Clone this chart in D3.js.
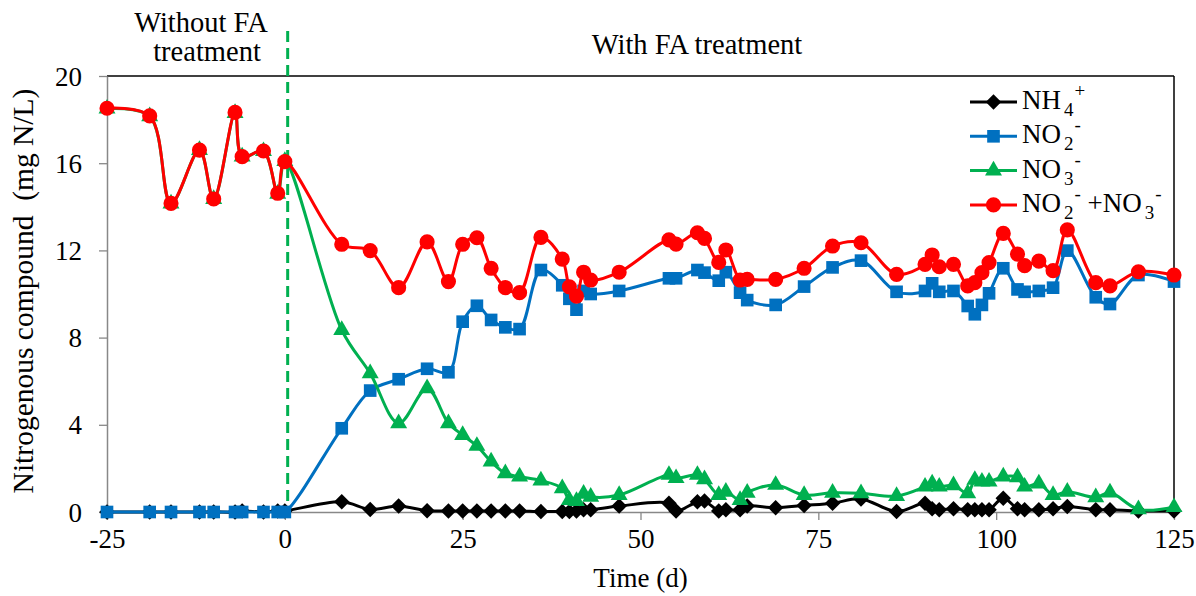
<!DOCTYPE html>
<html>
<head>
<meta charset="utf-8">
<script src="https://cdn.jsdelivr.net/npm/d3@7"></script>
<style>
  body { margin: 0; background: #fff; }
  svg { display: block; font-family: "Liberation Serif", "Times New Roman", serif; }
  svg text { font-family: "Liberation Serif", "Times New Roman", serif; }
</style>
</head>
<body>
<svg id="chart" width="1196" height="596"></svg>
<script>
// sampling days (d)
var days = [-25, -19, -16, -12, -10, -7, -6, -3, -1, 0, 8, 12, 16, 20, 23, 25, 27, 29, 31, 33,
  36, 39, 40, 41, 42, 43, 47, 54, 55, 58, 59, 61, 62, 64, 65, 69, 73, 77, 81, 86,
  90, 91, 92, 94, 96, 97, 98, 99, 101, 103, 104, 106, 108, 110, 114, 116, 120, 125];

var nh4 = [0, 0, 0, 0, 0, 0, 0.05, 0, 0.05, 0.05, 0.47, 0.12, 0.27, 0.06, 0.05, 0.05, 0.05, 0.05, 0.05, 0.05,
  0.02, 0.02, 0.02, 0.05, 0.1, 0.1, 0.27, 0.4, 0.05, 0.47, 0.5, 0.05, 0.1, 0.1, 0.27, 0.2, 0.3, 0.4, 0.6, 0.02,
  0.4, 0.15, 0.1, 0.15, 0.1, 0.1, 0.1, 0.1, 0.63, 0.15, 0.1, 0.1, 0.15, 0.25, 0.1, 0.1, 0.05, 0.05];

var no2 = [0, 0, 0, 0, 0, 0, 0, 0, 0, 0, 3.84, 5.57, 6.09, 6.57, 6.41, 8.73, 9.46, 8.81, 8.47, 8.39,
  11.1, 10.4, 9.78, 9.28, 10.14, 10.0, 10.14, 10.72, 10.72, 11.1, 10.98, 10.61, 11.0, 10.06, 9.72, 9.5, 10.34, 11.22, 11.53, 10.1,
  10.14, 10.49, 10.1, 10.14, 9.45, 9.07, 9.5, 10.03, 11.18, 10.21, 10.1, 10.14, 10.29, 11.99, 9.85, 9.54, 10.87, 10.57];

var no3 = [18.5, 18.15, 14.15, 16.6, 14.35, 18.3, 16.3, 16.55, 14.6, 16.1, 8.35, 6.36, 4.07, 5.67, 4.07, 3.53, 3.03, 2.31, 1.77, 1.62,
  1.44, 1.09, 0.55, 0.5, 0.83, 0.7, 0.78, 1.7, 1.55, 1.7, 1.5, 0.78, 0.93, 0.55, 0.88, 1.24, 0.78, 0.88, 0.86, 0.73,
  1.16, 1.3, 1.16, 1.22, 0.86, 1.47, 1.39, 1.39, 1.62, 1.59, 1.16, 1.3, 0.78, 0.93, 0.67, 0.89, 0.12, 0.22];

var noxSum = [18.52, 18.17, 14.16, 16.6, 14.36, 18.33, 16.3, 16.56, 14.62, 16.07, 12.28, 11.99, 10.29, 12.39, 10.57, 12.28, 12.58, 11.18, 10.29, 10.06,
  12.6, 11.6, 10.33, 9.9, 11.0, 10.64, 11.0, 12.48, 12.29, 12.81, 12.55, 11.45, 12.02, 10.64, 10.67, 10.67, 11.18, 12.2, 12.35, 10.9,
  11.36, 11.79, 11.25, 11.36, 10.37, 10.52, 10.98, 11.44, 12.78, 11.83, 11.3, 11.51, 11.07, 12.94, 10.52, 10.37, 11.02, 10.87];

var xTicks = [-25, 0, 25, 50, 75, 100, 125];
var yTicks = [0, 4, 8, 12, 16, 20];
var faStart = 0.4; // day the FA dosing starts (dashed line)

var series = [
  { key: "nh4", values: nh4, color: "#000000", marker: "diamond", label: ["NH", "4", "+"] },
  { key: "no2", values: no2, color: "#0070C0", marker: "square", label: ["NO", "2", "-"] },
  { key: "no3", values: no3, color: "#00B050", marker: "triangle", label: ["NO", "3", "-"] },
  { key: "sum", values: noxSum, color: "#FF0000", marker: "circle", label: ["NO", "2", "-", " +NO", "3", "-"] }
];

// plot area (note: "top" is reserved on window, so use other names)
var pLeft = 107, pRight = 1174, pTop = 76, pBottom = 512;

var svg = d3.select("#chart");

var x = d3.scaleLinear().domain([-25, 125]).range([pLeft, pRight]);
var y = d3.scaleLinear().domain([0, 20]).range([pBottom, pTop]);

// plot frame: dark top and right edges
svg.append("line")
  .attr("x1", pLeft).attr("x2", pRight).attr("y1", pTop).attr("y2", pTop)
  .attr("stroke", "#000").attr("stroke-width", 1.5);
svg.append("line")
  .attr("x1", pRight).attr("x2", pRight).attr("y1", pTop).attr("y2", pBottom)
  .attr("stroke", "#000").attr("stroke-width", 1.5);

// axes
var plain = function (d) { return String(d); };
var gx = svg.append("g")
  .attr("transform", "translate(0," + pBottom + ")")
  .call(d3.axisBottom(x).tickValues(xTicks).tickFormat(plain).tickSize(8).tickPadding(6).tickSizeOuter(0));
var gy = svg.append("g")
  .attr("transform", "translate(" + pLeft + ",0)")
  .call(d3.axisLeft(y).tickValues(yTicks).tickFormat(plain).tickSize(8).tickPadding(17).tickSizeOuter(0));

[gx, gy].forEach(function (g) {
  g.attr("font-family", null).attr("font-size", null);
  g.select(".domain").attr("stroke", "#888").attr("stroke-width", 1.5);
  g.selectAll(".tick line").attr("stroke", "#888").attr("stroke-width", 1.3);
  g.selectAll(".tick text")
    .attr("fill", "#000")
    .attr("font-size", 27);
});
gx.selectAll(".tick text").attr("dy", "0.8em");
gy.selectAll(".tick text").attr("dy", "0.34em");

// axis titles
svg.append("text")
  .attr("x", x(50)).attr("y", 587)
  .attr("text-anchor", "middle")
  .attr("font-size", 27)
  .text("Time (d)");

svg.append("text")
  .attr("transform", "translate(33," + 291 + ") rotate(-90)")
  .attr("text-anchor", "middle")
  .attr("font-size", 29.5)
  .style("white-space", "pre")
  .text("Nitrogenous compound  (mg N/L)");

// FA dosing marker and phase labels
svg.append("line")
  .attr("x1", x(faStart)).attr("x2", x(faStart))
  .attr("y1", 31).attr("y2", pBottom)
  .attr("stroke", "#00B050").attr("stroke-width", 3)
  .attr("stroke-dasharray", "11,6");

svg.append("text")
  .attr("x", 201).attr("y", 32)
  .attr("text-anchor", "middle").attr("font-size", 28.5)
  .text("Without FA");
svg.append("text")
  .attr("x", 207).attr("y", 61)
  .attr("text-anchor", "middle").attr("font-size", 28.5)
  .text("treatment");
svg.append("text")
  .attr("x", 697).attr("y", 54)
  .attr("text-anchor", "middle").attr("font-size", 28.5)
  .text("With FA treatment");

// markers
function markerPath(type) {
  if (type === "circle") return d3.symbol().type(d3.symbolCircle).size(180)();
  if (type === "square") return d3.symbol().type(d3.symbolSquare).size(160)();
  if (type === "triangle") return d3.symbol().type(d3.symbolTriangle).size(125)();
  return d3.symbol().type(d3.symbolSquare).size(120)();
}

var line = d3.line()
  .x(function (d) { return x(d[0]); })
  .y(function (d) { return y(d[1]); })
  .curve(d3.curveCatmullRom.alpha(0.5));

series.forEach(function (s) {
  var pts = days.map(function (d, i) { return [d, s.values[i]]; });
  var g = svg.append("g").attr("class", "series-" + s.key);

  g.append("path")
    .datum(pts)
    .attr("fill", "none")
    .attr("stroke", s.color)
    .attr("stroke-width", 3)
    .attr("d", line);

  g.selectAll("path.mk")
    .data(pts)
    .enter()
    .append("path")
    .attr("class", "mk")
    .attr("d", markerPath(s.marker))
    .attr("fill", s.color)
    .attr("transform", function (d) {
      var t = "translate(" + x(d[0]) + "," + y(d[1]) + ")";
      return s.marker === "diamond" ? t + " rotate(45)" : t;
    });
});

// legend
var legend = svg.append("g").attr("transform", "translate(970,0)");
series.forEach(function (s, i) {
  var base = 109 + i * 34.3;
  var row = legend.append("g");
  row.append("line")
    .attr("x1", 0).attr("x2", 47)
    .attr("y1", base - 7).attr("y2", base - 7)
    .attr("stroke", s.color).attr("stroke-width", 3);
  row.append("path")
    .attr("d", markerPath(s.marker))
    .attr("fill", s.color)
    .attr("transform", "translate(23.5," + (base - 7) + ")" + (s.marker === "diamond" ? " rotate(45)" : ""));

  var txt = row.append("text")
    .attr("x", 52).attr("y", base)
    .attr("font-size", 27)
    .style("white-space", "pre");
  // label parts come in threes: main text, subscript, superscript
  for (var k = 0; k < s.label.length; k += 3) {
    txt.append("tspan").attr("dy", k === 0 ? 0 : 12).text(s.label[k]);
    txt.append("tspan").attr("dx", 3).attr("dy", 7).attr("font-size", 19).text(s.label[k + 1]);
    txt.append("tspan").attr("dx", 1).attr("dy", -19).attr("font-size", 19).text(s.label[k + 2]);
  }
});
</script>
</body>
</html>
